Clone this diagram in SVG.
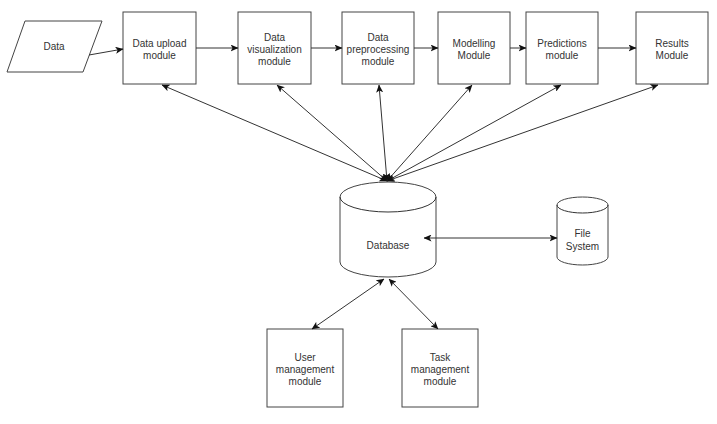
<svg xmlns="http://www.w3.org/2000/svg" width="717" height="424" viewBox="0 0 717 424">
<defs>
<marker id="ah" viewBox="0 0 8 7" refX="7.5" refY="3.5" markerWidth="8" markerHeight="7" markerUnits="userSpaceOnUse" orient="auto-start-reverse">
<path d="M0,0 L8,3.5 L0,7 L2,3.5 z" fill="#111"/>
</marker>
<style>
.box{fill:#fff;stroke:#444;stroke-width:1}
.t{font-family:"Liberation Sans",Arial,sans-serif;font-size:10px;fill:#333;text-anchor:middle}
.c{fill:none;stroke:#333;stroke-width:1}
.one{marker-end:url(#ah)}
.two{marker-start:url(#ah);marker-end:url(#ah)}
</style>
</defs>
<rect width="717" height="424" fill="#fff"/>

<g id="data">
<polygon class="box" points="25,21 102,21 83,72 7,72"/>
<text class="t" x="54" y="50">Data</text>
</g>

<g id="upload">
<rect class="box" x="123" y="12" width="73" height="72"/>
<text class="t" x="159.5" y="46.5">Data upload</text>
<text class="t" x="159.5" y="58.5">module</text>
</g>

<g id="visualization">
<rect class="box" x="238" y="12" width="73" height="72"/>
<text class="t" x="274.5" y="40.5">Data</text>
<text class="t" x="274.5" y="52.5">visualization</text>
<text class="t" x="274.5" y="64.5">module</text>
</g>

<g id="preprocessing">
<rect class="box" x="342" y="12" width="72" height="72"/>
<text class="t" x="378" y="40.5">Data</text>
<text class="t" x="378" y="52.5">preprocessing</text>
<text class="t" x="378" y="64.5">module</text>
</g>

<g id="modelling">
<rect class="box" x="438" y="12" width="72" height="72"/>
<text class="t" x="474" y="46.5">Modelling</text>
<text class="t" x="474" y="58.5">Module</text>
</g>

<g id="predictions">
<rect class="box" x="526" y="12" width="72" height="72"/>
<text class="t" x="562" y="46.5">Predictions</text>
<text class="t" x="562" y="58.5">module</text>
</g>

<g id="results">
<rect class="box" x="636" y="12" width="72" height="72"/>
<text class="t" x="672" y="46.5">Results</text>
<text class="t" x="672" y="58.5">Module</text>
</g>

<g id="database">
<path class="box" d="M340,197 A48,15 0 0 1 436,197 L436,262 A48,15 0 0 1 340,262 Z"/>
<path class="c" d="M340,197 A48,15 0 0 0 436,197"/>
<text class="t" x="388" y="249">Database</text>
</g>

<g id="filesystem">
<path class="box" d="M557,205 A25.5,8 0 0 1 608,205 L608,257 A25.5,8 0 0 1 557,257 Z"/>
<path class="c" d="M557,205 A25.5,8 0 0 0 608,205"/>
<text class="t" x="582.5" y="237">File</text>
<text class="t" x="582.5" y="250">System</text>
</g>

<g id="user">
<rect class="box" x="267" y="329" width="76" height="78"/>
<text class="t" x="305" y="360.5">User</text>
<text class="t" x="305" y="372.5">management</text>
<text class="t" x="305" y="384.5">module</text>
</g>

<g id="task">
<rect class="box" x="402" y="329" width="76" height="78"/>
<text class="t" x="440" y="360.5">Task</text>
<text class="t" x="440" y="372.5">management</text>
<text class="t" x="440" y="384.5">module</text>
</g>

<g id="connectors">
<line class="c one" x1="89" y1="55" x2="123" y2="49"/>
<line class="c one" x1="196" y1="48" x2="238" y2="48"/>
<line class="c one" x1="311" y1="48" x2="342" y2="48"/>
<line class="c one" x1="414" y1="48" x2="438" y2="48"/>
<line class="c one" x1="510" y1="48" x2="526" y2="48"/>
<line class="c one" x1="598" y1="48" x2="636" y2="48"/>

<line class="c two" x1="387" y1="181" x2="162" y2="85"/>
<line class="c two" x1="387" y1="181" x2="277" y2="85"/>
<line class="c two" x1="387" y1="181" x2="379" y2="85"/>
<line class="c two" x1="387" y1="181" x2="472" y2="85"/>
<line class="c two" x1="387" y1="181" x2="561" y2="85"/>
<line class="c two" x1="387" y1="181" x2="658" y2="85"/>

<line class="c two" x1="424" y1="238" x2="557" y2="238"/>

<line class="c two" x1="384" y1="279" x2="312" y2="329"/>
<line class="c two" x1="389" y1="279" x2="438" y2="329"/>
</g>
</svg>
